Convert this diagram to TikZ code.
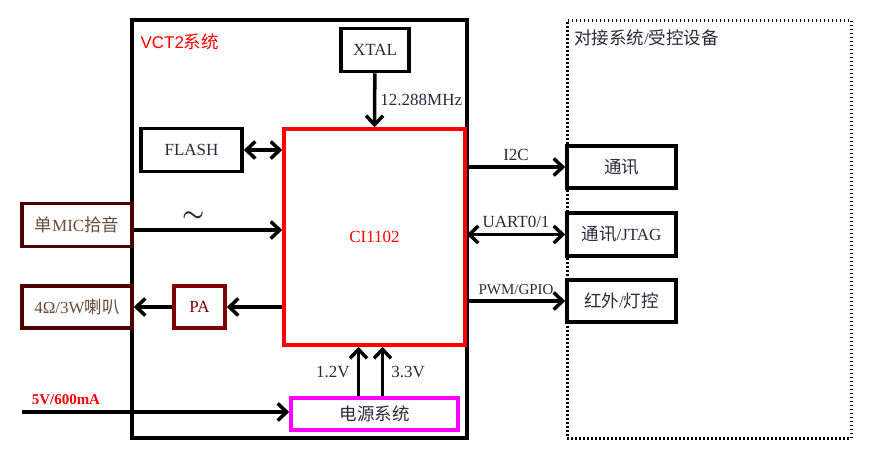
\documentclass[tikz,border=0pt]{standalone}
\usepackage{fontspec}
\setmainfont{Liberation Serif}
\newfontfamily\zhfont{Noto Sans CJK SC}
\newfontfamily\sansfont{Liberation Sans}
\newcommand{\zh}[1]{{\zhfont\fontsize{17.5}{20}\selectfont #1}}
\usetikzlibrary{arrows.meta}
\definecolor{micred}{HTML}{4D0000}
\definecolor{pared}{HTML}{800000}
\definecolor{txtgray}{HTML}{2A2A3A}
\definecolor{mictxt}{HTML}{6A4A3C}
\definecolor{pwrpink}{HTML}{FF00FF}
\begin{document}
\begin{tikzpicture}[
        x=1pt, y=-1pt,
        font=\fontsize{17}{19}\selectfont,
        blk/.style={draw, line width=3.5pt, minimum width=#1, inner sep=0pt, text=txtgray},
        arr/.style={-{Straight Barb[length=9pt,width=17pt]}, line width=3.5pt},
        darr/.style={{Straight Barb[length=9pt,width=17pt]}-{Straight Barb[length=9pt,width=17pt]}, line width=3.5pt},
        lbl/.style={text=txtgray, inner sep=1pt}
      ]
        \useasboundingbox (0,0) rectangle (873,456);
        % system frames
        \node[blk=335pt, minimum height=418pt] (vct) at (299.5,229) {};
        \node[anchor=west, text=red, font=\sansfont\fontsize{17}{19}\selectfont] (vcttitle) at (137,42) {VCT2\zh{系统}};
        \node[draw, line width=3pt, dash pattern=on 1.5pt off 2.5pt, minimum width=284pt, minimum height=418pt, inner sep=0pt] (peer) at (709,229) {};
        \node[anchor=west, lbl] (peertitle) at (573,38) {\zh{对接系统}/\zh{受控设备}};
        % blocks inside
        \node[blk=68pt, minimum height=43pt] (xtal) at (375,50) {XTAL};
        \node[blk=101pt, minimum height=43pt] (flash) at (191.5,150) {FLASH};
        \node[blk=181pt, minimum height=216pt, draw=red, text=red] (chip) at (374.5,237) {CI1102};
        \node[blk=167pt, minimum height=32pt, draw=pwrpink] (pwr) at (374.5,414) {\zh{电源系统}};
        \node[blk=51pt, minimum height=42pt, draw=pared, text=pared] (pa) at (199.5,307) {PA};
        % outside blocks
        \node[blk=110pt, minimum height=43pt, draw=micred, text=mictxt] (mic) at (77,225) {\zh{单}MIC\zh{拾音}};
        \node[blk=110pt, minimum height=42pt, draw=micred, text=mictxt] (spk) at (77,307) {4Ω/3W\zh{喇叭}};
        \node[blk=109pt, minimum height=42pt] (com1) at (621.5,167) {\zh{通讯}};
        \node[blk=109pt, minimum height=43pt] (com2) at (621.5,234.5) {\zh{通讯}/JTAG};
        \node[blk=109pt, minimum height=42pt] (ir) at (621.5,301) {\zh{红外}/\zh{灯控}};
        \coordinate (in5) at (22,412);
        % connectors
        \draw[arr] (xtal) -- (chip.north) node[midway, right=3pt, lbl] {12.288MHz};
        \draw[darr] (flash.east) -- (flash.east -| chip.west);
        \draw[arr] ([yshift=-5pt]mic.east) -- ([yshift=-5pt]mic.east -| chip.west)
          node[pos=0.4, above=6pt, lbl, font=\fontsize{28}{28}\selectfont\boldmath] {$\sim$};
        \draw[arr] (chip.west |- pa.east) -- (pa.east);
        \draw[arr] (pa.west) -- (spk.east);
        \draw[arr] (in5) -- (in5 -| pwr.west)
          node[pos=0, xshift=7pt, yshift=5pt, anchor=south west, text=red, inner sep=1pt, font=\fontsize{15}{17}\selectfont\bfseries] {5V/600mA};
        \draw[arr] ([xshift=-16pt]pwr.north) -- ([xshift=-16pt]chip.south) node[midway, left=6pt, lbl] {1.2V};
        \draw[arr] ([xshift=8pt]pwr.north) -- ([xshift=8pt]chip.south) node[midway, right=6pt, lbl] {3.3V};
        \draw[arr] (chip.east |- com1.west) -- (com1.west) node[midway, above=4pt, lbl] {I2C};
        \draw[darr] (chip.east |- com2.west) -- (com2.west) node[midway, above=4pt, lbl] {UART0/1};
        \draw[arr] (chip.east |- ir.west) -- (ir.west) node[midway, above=4pt, lbl, font=\fontsize{15}{17}\selectfont] {PWM/GPIO};
      \end{tikzpicture}
\end{document}
